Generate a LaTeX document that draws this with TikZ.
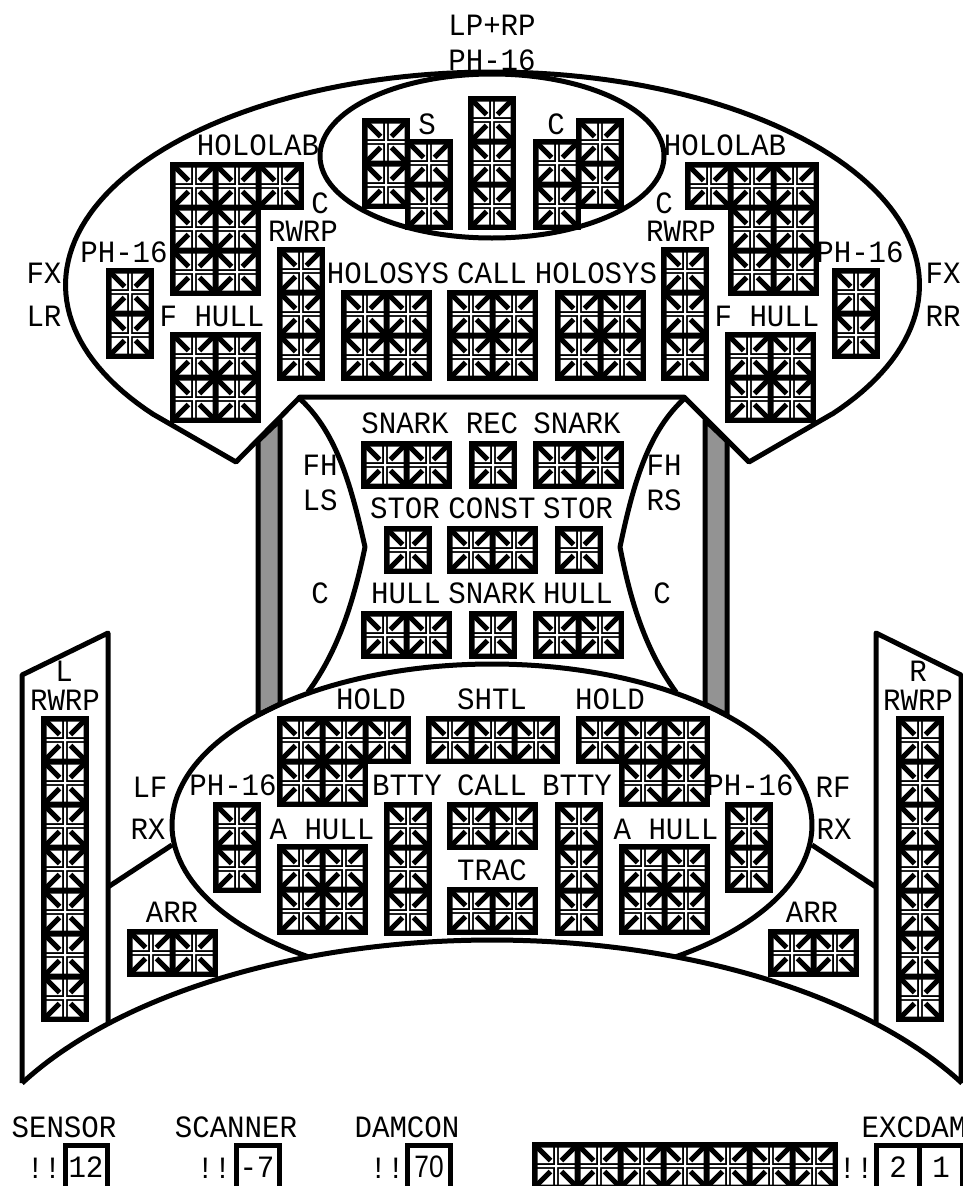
\documentclass[tikz,border=0pt]{standalone}
\usepackage{fontspec}
\newfontfamily\ssdfont[FakeStretch=0.94]{Liberation Mono}
\newfontfamily\ssdsans[FakeStretch=0.85]{Liberation Sans}
\newcount\labelcount
\newcommand\lab[3]{\global\advance\labelcount by 1 \node[lbl] (t\the\labelcount) at (#1,#2) {#3};}
\tikzset{
  ssdline/.style={draw=black,line width=5pt,line join=round},
  thinbox/.style={draw=black,line width=5pt,fill=white},
  lbl/.style={inner sep=0pt,text height=20.5pt,text depth=0pt,font=\fontsize{31}{34}\ssdfont,text=black},
  ssdcell/.pic={
    \fill[white] (5.5,5.5) rectangle (21.2,21.2) (26.8,5.5) rectangle (42.5,21.2) (5.5,26.8) rectangle (21.2,42.5) (26.8,26.8) rectangle (42.5,42.5);
    \fill[white] (23,5.5) rectangle (25,42.5) (5.5,23) rectangle (42.5,25);
    \draw[black,line width=5pt] (5,5)--(18.5,18.5) (43,5)--(29.5,18.5) (5,43)--(18.5,29.5) (43,43)--(29.5,29.5);
  }
}
% \ssd{x}{y}{cols}{rows}: black block with one window per cell
\newcommand\ssd[4]{%
  \fill[black] (#1,#2) rectangle ++({#3*43+5},{#4*43+5});
  \foreach \ci in {1,...,#3}{\foreach \cj in {1,...,#4}{%
    \pic at ({#1+(\ci-1)*43},{#2+(\cj-1)*43}) {ssdcell};}}%
}
\begin{document}
\begin{tikzpicture}[x=1pt,y=-1pt]
\useasboundingbox (0,0) rectangle (963,1186);
\clip (0,0) rectangle (963,1186);
\fill[white] (0,0) rectangle (963,1186);
% saucer
\draw[ssdline] (300,397) -- (684,397) -- (749,462) -- (832,414)
  -- plot[domain=37.3:-217.3,samples=140] ({492.5+427*cos(\x)},{285+213*sin(\x)})
  -- (236,462) -- cycle;
\draw[ssdline,fill=white] (492,156) ellipse [x radius=172,y radius=82];
% connecting strips
\draw[ssdline,fill=gray!85] (258,441) -- (280,420) -- (280,704) -- (258,715) -- cycle;
\draw[ssdline,fill=gray!85] (727,441) -- (705,420) -- (705,704) -- (727,715) -- cycle;
% neck curves
\draw[ssdline] (298,397) .. controls (335,430) and (350,480) .. (365,547) .. controls (352,610) and (335,655) .. (308,692);
\draw[ssdline] (686,397) .. controls (649,430) and (634,480) .. (620,547) .. controls (632,610) and (649,655) .. (676,692);
% nacelles and struts
\draw[ssdline] (108,1022) -- (108,633) -- (22,675) -- (22,1083);
\draw[ssdline] (876,1022) -- (876,633) -- (961,675) -- (961,1083);
\draw[ssdline] (108,887) -- (172,845);
\draw[ssdline] (876,887) -- (812,845);
% engineering hull
\draw[ssdline] plot[domain=125:415,samples=160] ({492+320*cos(\x)},{825+161*sin(\x)});
\draw[ssdline] plot[domain=150.5:29.5,samples=120] ({492+540*cos(\x)},{1222-282*sin(\x)});
% blocks: saucer
\ssd{362}{118}{1}{2}
\ssd{405}{139}{1}{2}
\ssd{468}{96}{1}{3}
\ssd{576}{118}{1}{2}
\ssd{533}{139}{1}{2}
\ssd{170}{162}{3}{1}
\ssd{170}{162}{2}{3}
\ssd{685}{162}{3}{1}
\ssd{728}{162}{2}{3}
\ssd{106}{268}{1}{2}
\ssd{832}{268}{1}{2}
\ssd{170}{332}{2}{2}
\ssd{725}{332}{2}{2}
\ssd{277}{247}{1}{3}
\ssd{661}{247}{1}{3}
\ssd{341}{290}{2}{2}
\ssd{447}{290}{2}{2}
\ssd{555}{290}{2}{2}
% blocks: neck
\ssd{361}{441}{2}{1}
\ssd{469}{441}{1}{1}
\ssd{533}{441}{2}{1}
\ssd{384}{526}{1}{1}
\ssd{447}{526}{2}{1}
\ssd{555}{526}{1}{1}
\ssd{361}{611}{2}{1}
\ssd{469}{611}{1}{1}
\ssd{533}{611}{2}{1}
% blocks: engineering
\ssd{277}{716}{3}{1}
\ssd{277}{716}{2}{2}
\ssd{426}{716}{3}{1}
\ssd{576}{716}{3}{1}
\ssd{619}{716}{2}{2}
\ssd{213}{802}{1}{2}
\ssd{725}{802}{1}{2}
\ssd{277}{844}{2}{2}
\ssd{619}{844}{2}{2}
\ssd{384}{802}{1}{3}
\ssd{555}{802}{1}{3}
\ssd{447}{802}{2}{1}
\ssd{447}{887}{2}{1}
% blocks: nacelles
\ssd{41}{716}{1}{7}
\ssd{896}{716}{1}{7}
\ssd{127}{929}{2}{1}
\ssd{768}{929}{2}{1}
% status row
\ssd{532}{1142}{7}{1}
\draw[thinbox] (65.5,1145.5) rectangle (107.5,1195);
\draw[thinbox] (236,1145.5) rectangle (279,1195);
\draw[thinbox] (407.5,1145.5) rectangle (450.5,1195);
\draw[thinbox] (876,1145.5) rectangle (919.5,1195);
\draw[thinbox] (919.5,1145.5) rectangle (962,1195);
% labels
\lab{492}{25}{LP+RP}
\lab{492}{60}{PH-16}
\lab{427}{124}{S}
\lab{556}{124}{C}
\lab{258}{145}{HOLOLAB}
\lab{725}{145}{HOLOLAB}
\lab{320}{203}{C}
\lab{664}{203}{C}
\lab{303}{231}{RWRP}
\lab{681}{231}{RWRP}
\lab{124}{252}{PH-16}
\lab{860}{252}{PH-16}
\lab{44}{273}{FX}
\lab{44}{316}{LR}
\lab{943}{273}{FX}
\lab{943}{316}{RR}
\lab{212}{316}{F HULL}
\lab{767}{316}{F HULL}
\lab{388}{273}{HOLOSYS}
\lab{492}{273}{CALL}
\lab{596}{273}{HOLOSYS}
\lab{405}{423}{SNARK}
\lab{492}{423}{REC}
\lab{577}{423}{SNARK}
\lab{320}{465}{FH}
\lab{320}{500}{LS}
\lab{664}{465}{FH}
\lab{664}{500}{RS}
\lab{405}{508}{STOR}
\lab{492}{508}{CONST}
\lab{578}{508}{STOR}
\lab{320}{593}{C}
\lab{662}{593}{C}
\lab{406}{593}{HULL}
\lab{492}{593}{SNARK}
\lab{578}{593}{HULL}
\lab{371}{699}{HOLD}
\lab{492}{699}{SHTL}
\lab{610}{699}{HOLD}
\lab{233}{785}{PH-16}
\lab{750}{785}{PH-16}
\lab{150}{787}{LF}
\lab{148}{829}{RX}
\lab{833}{787}{RF}
\lab{834}{829}{RX}
\lab{407}{785}{BTTY}
\lab{492}{785}{CALL}
\lab{577}{785}{BTTY}
\lab{322}{829}{A HULL}
\lab{666}{829}{A HULL}
\lab{492}{870}{TRAC}
\lab{172}{912}{ARR}
\lab{812}{912}{ARR}
\lab{64}{671}{L}
\lab{65}{700}{RWRP}
\lab{918}{671}{R}
\lab{918}{700}{RWRP}
\lab{64}{1127}{SENSOR}
\lab{236}{1127}{SCANNER}
\lab{407}{1127}{DAMCON}
\lab{914}{1127}{EXCDAM}
\lab{44}{1168}{!!}
\lab{214}{1168}{!!}
\lab{387}{1168}{!!}
\lab{856}{1168}{!!}
\lab{86}{1167}{12}
\lab{257}{1167}{-7}
\lab{429}{1167}{{\ssdsans 70}}
\lab{898}{1167}{2}
\lab{941}{1167}{1}
\end{tikzpicture}
\end{document}
